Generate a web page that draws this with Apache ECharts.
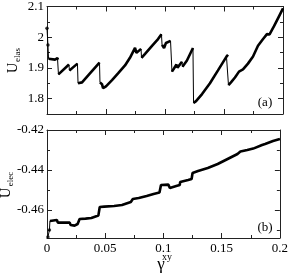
<!DOCTYPE html>
<html><head><meta charset="utf-8">
<script src="https://cdn.jsdelivr.net/npm/echarts@6/dist/echarts.min.js"></script>
<style>html,body{margin:0;padding:0;background:#fff}#c{width:291px;height:273px}</style>
</head><body><div id="c"></div>
<script>
// ---- data ----
const gammaTop = [0, 0.0008, 0.0013, 0.0068, 0.0089, 0.0093, 0.0097, 0.0186, 0.0190, 0.0258, 0.0263, 0.0297, 0.0364, 0.0445, 0.0449, 0.0466, 0.0475, 0.0500, 0.0551, 0.0602, 0.0661, 0.0703, 0.0746, 0.0758, 0.0771, 0.0797, 0.0801, 0.0831, 0.0890, 0.0941, 0.0970, 0.0975, 0.0992, 0.1008, 0.1047, 0.1059, 0.1076, 0.1097, 0.1106, 0.1144, 0.1148, 0.1186, 0.1237, 0.1242, 0.1263, 0.1314, 0.1381, 0.1449, 0.1521, 0.1534, 0.1538, 0.1559, 0.1593, 0.1627, 0.1636, 0.1661, 0.1703, 0.1746, 0.1788, 0.1831, 0.1864, 0.1877, 0.1886, 0.1924, 0.1966, 0.2000];
const uTop = [2.029, 1.975, 1.930, 1.927, 1.932, 1.927, 1.879, 1.911, 1.892, 1.914, 1.850, 1.853, 1.882, 1.917, 1.853, 1.847, 1.834, 1.840, 1.860, 1.882, 1.908, 1.933, 1.965, 1.949, 1.953, 1.962, 1.933, 1.946, 1.972, 1.994, 2.010, 1.975, 1.965, 1.981, 1.988, 1.888, 1.898, 1.911, 1.901, 1.920, 1.904, 1.924, 1.965, 1.786, 1.792, 1.815, 1.850, 1.892, 1.937, 1.943, 1.844, 1.853, 1.869, 1.888, 1.882, 1.895, 1.914, 1.937, 1.972, 1.994, 2.010, 2.013, 2.009, 2.036, 2.068, 2.094];
const gammaBot = [0.0008, 0.0021, 0.0025, 0.0042, 0.0085, 0.0093, 0.0195, 0.0203, 0.0237, 0.0263, 0.0280, 0.0331, 0.0381, 0.0390, 0.0441, 0.0453, 0.0492, 0.0576, 0.0644, 0.0653, 0.0720, 0.0737, 0.0788, 0.0856, 0.0915, 0.0966, 0.0979, 0.1042, 0.1055, 0.1110, 0.1140, 0.1144, 0.1212, 0.1242, 0.1250, 0.1297, 0.1381, 0.1466, 0.1534, 0.1568, 0.1636, 0.1653, 0.1661, 0.1720, 0.1771, 0.1780, 0.1847, 0.1873, 0.1881, 0.1941, 0.2000];
const uBot = [-0.4735, -0.4700, -0.4655, -0.4650, -0.4650, -0.4663, -0.4663, -0.4675, -0.4678, -0.4670, -0.4645, -0.4643, -0.4640, -0.4630, -0.4628, -0.4585, -0.4583, -0.4580, -0.4575, -0.4565, -0.4560, -0.4545, -0.4540, -0.4530, -0.4520, -0.4513, -0.4475, -0.4473, -0.4490, -0.4480, -0.4475, -0.4460, -0.4450, -0.4445, -0.4415, -0.4405, -0.4390, -0.4370, -0.4350, -0.4340, -0.4320, -0.4315, -0.4308, -0.4300, -0.4293, -0.4283, -0.4275, -0.4270, -0.4263, -0.4255, -0.4245];
const xTickLabels = [0, 0.05, 0.1, 0.15, 0.2];
const topYLabels = [1.8, 1.9, 2, 2.1];
const topYMinor = [1.85, 1.95, 2.05];
const botYLabels = [-0.46, -0.44, -0.42];
const botYMinor = [-0.47, -0.45, -0.43];
const topYTitle = ['U', 'elas'];
const botYTitle = ['U', 'elec'];
const xTitle = ['γ', 'xy'];
const panelLabels = ['(a)', '(b)'];

// ---- build ----
const FONT = 'Liberation Serif';
const AX = '#222';
function pairs(g, u) { return g.map((v, i) => [v, u[i]]); }
// thick segments: skip the first relaxation points and break at steep drops
function thick(g, u, yRange) {
  const out = [];
  for (let i = 2; i < g.length; i++) {
    if (i > 2) {
      const dg = (g[i] - g[i - 1]) / 0.2, du = (u[i] - u[i - 1]) / yRange;
      if (du < 0 && Math.abs(du) / Math.max(dg, 1e-9) > 20) out.push([null, null]);
    }
    out.push([g[i], u[i]]);
  }
  return out;
}
const grids = [
  { left: 47, top: 5, width: 236, height: 109 },
  { left: 47, top: 130, width: 236, height: 108 }
];
function xAx(gi, pos, showLabel) {
  return {
    type: 'value', gridIndex: gi, position: pos, min: 0, max: 0.2, interval: 0.05,
    axisLine: { show: true, lineStyle: { color: AX, width: 1 } },
    axisTick: { show: true, inside: true, length: 5, lineStyle: { color: AX } },
    minorTick: { show: true, splitNumber: 2, length: 3, lineStyle: { color: AX } },
    splitLine: { show: false }, minorSplitLine: { show: false },
    axisLabel: { show: showLabel, color: '#000', fontFamily: FONT, fontSize: 13, margin: 4,
      customValues: xTickLabels, formatter: v => String(v) }
  };
}
function yAx(gi, pos, min, max, vals, len, showLabel, showLine) {
  return {
    type: 'value', gridIndex: gi, position: pos, min: min, max: max,
    axisLine: { show: showLine, lineStyle: { color: AX, width: 1 } },
    axisTick: { show: true, inside: true, length: len, customValues: vals, lineStyle: { color: AX } },
    splitLine: { show: false },
    axisLabel: { show: showLabel, color: '#000', fontFamily: FONT, fontSize: 13, margin: 3,
      customValues: vals, formatter: v => String(v) }
  };
}
const option = {
  animation: false,
  backgroundColor: '#fff',
  grid: grids,
  xAxis: [xAx(0, 'bottom', false), xAx(0, 'top', false), xAx(1, 'bottom', true), xAx(1, 'top', false)],
  yAxis: [
    yAx(0, 'left', 1.75, 2.1, topYLabels, 5, true, true),
    yAx(0, 'left', 1.75, 2.1, topYMinor, 3, false, false),
    yAx(0, 'right', 1.75, 2.1, topYLabels, 5, false, true),
    yAx(0, 'right', 1.75, 2.1, topYMinor, 3, false, false),
    yAx(1, 'left', -0.474, -0.42, botYLabels, 5, true, true),
    yAx(1, 'left', -0.474, -0.42, botYMinor, 3, false, false),
    yAx(1, 'right', -0.474, -0.42, botYLabels, 5, false, true),
    yAx(1, 'right', -0.474, -0.42, botYMinor, 3, false, false)
  ],
  series: [
    { type: 'line', xAxisIndex: 0, yAxisIndex: 0, data: pairs(gammaTop, uTop), showSymbol: false,
      lineStyle: { color: '#000', width: 1 }, z: 2 },
    { type: 'line', xAxisIndex: 0, yAxisIndex: 0, data: thick(gammaTop, uTop, 0.35), showSymbol: false,
      connectNulls: false, lineStyle: { color: '#000', width: 2.6 }, z: 3 },
    { type: 'scatter', xAxisIndex: 0, yAxisIndex: 0, data: pairs(gammaTop, uTop).slice(0, 2),
      symbolSize: 3.5, itemStyle: { color: '#000' }, z: 4 },
    { type: 'line', xAxisIndex: 2, yAxisIndex: 4, data: pairs(gammaBot, uBot), showSymbol: false,
      lineStyle: { color: '#000', width: 1 }, z: 2 },
    { type: 'line', xAxisIndex: 2, yAxisIndex: 4, data: thick(gammaBot, uBot, 1e9), showSymbol: false,
      lineStyle: { color: '#000', width: 2.6 }, z: 3 },
    { type: 'scatter', xAxisIndex: 2, yAxisIndex: 4, data: pairs(gammaBot, uBot).slice(0, 2),
      symbolSize: 3.5, itemStyle: { color: '#000' }, z: 4 }
  ],
  graphic: [
    { type: 'text', x: 13, y: 68, rotation: Math.PI / 2, style: { text: topYTitle[0], font: '14px ' + FONT, fill: '#000', align: 'center', verticalAlign: 'middle' } },
    { type: 'text', x: 18, y: 55, rotation: Math.PI / 2, style: { text: topYTitle[1], font: '9px ' + FONT, fill: '#000', align: 'center', verticalAlign: 'middle' } },
    { type: 'text', x: 6, y: 193, rotation: Math.PI / 2, style: { text: botYTitle[0], font: '14px ' + FONT, fill: '#000', align: 'center', verticalAlign: 'middle' } },
    { type: 'text', x: 11, y: 179, rotation: Math.PI / 2, style: { text: botYTitle[1], font: '9px ' + FONT, fill: '#000', align: 'center', verticalAlign: 'middle' } },
    { type: 'text', x: 161, y: 265, style: { text: xTitle[0], font: '17px ' + FONT, fill: '#000', align: 'center', verticalAlign: 'middle' } },
    { type: 'text', x: 167, y: 257, style: { text: xTitle[1], font: '10px ' + FONT, fill: '#000', align: 'center', verticalAlign: 'middle' } },
    { type: 'text', x: 265, y: 103, style: { text: panelLabels[0], font: '13px ' + FONT, fill: '#000', align: 'center', verticalAlign: 'middle' } },
    { type: 'text', x: 265, y: 228, style: { text: panelLabels[1], font: '13px ' + FONT, fill: '#000', align: 'center', verticalAlign: 'middle' } }
  ]
};
const chart = echarts.init(document.getElementById('c'), null, { renderer: 'canvas' });
chart.setOption(option);
</script>
</body></html>
